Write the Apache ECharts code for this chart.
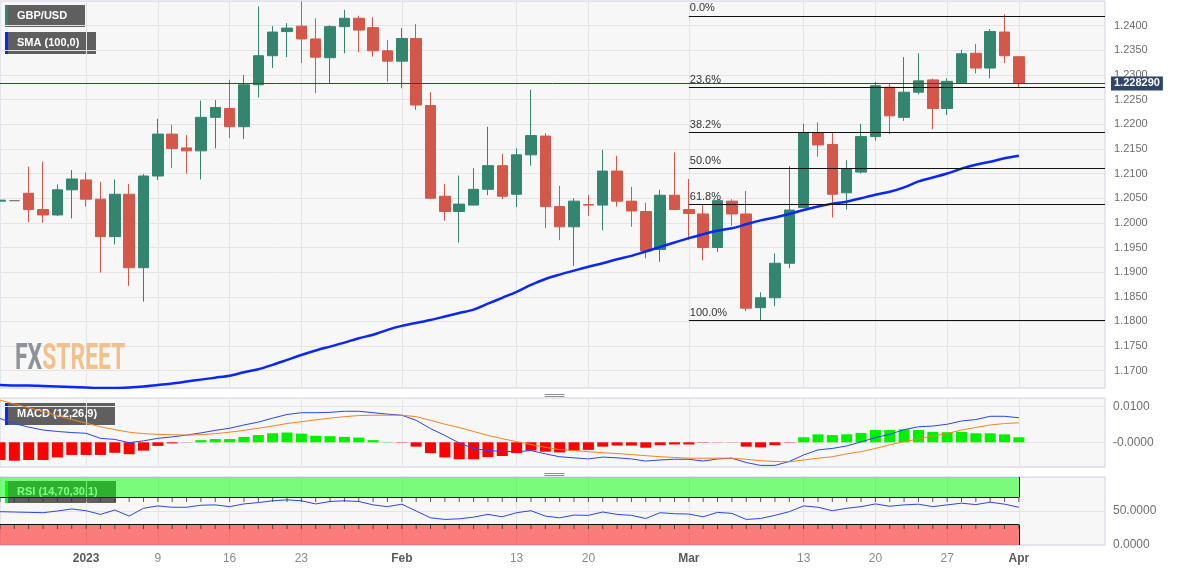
<!DOCTYPE html>
<html><head><meta charset="utf-8">
<script src="https://cdn.jsdelivr.net/npm/echarts@6/dist/echarts.min.js"></script>
<style>html,body{margin:0;padding:0;background:#fff;}#c{width:1182px;height:571px;}</style>
</head><body><div id="c"></div>
<script>
const dates = ['2022-12-23','2022-12-26','2022-12-27','2022-12-28','2022-12-29','2022-12-30',
'2023-01-02','2023-01-03','2023-01-04','2023-01-05','2023-01-06',
'2023-01-09','2023-01-10','2023-01-11','2023-01-12','2023-01-13',
'2023-01-16','2023-01-17','2023-01-18','2023-01-19','2023-01-20',
'2023-01-23','2023-01-24','2023-01-25','2023-01-26','2023-01-27',
'2023-01-30','2023-01-31','2023-02-01','2023-02-02','2023-02-03',
'2023-02-06','2023-02-07','2023-02-08','2023-02-09','2023-02-10',
'2023-02-13','2023-02-14','2023-02-15','2023-02-16','2023-02-17',
'2023-02-20','2023-02-21','2023-02-22','2023-02-23','2023-02-24',
'2023-02-27','2023-02-28','2023-03-01','2023-03-02','2023-03-03',
'2023-03-06','2023-03-07','2023-03-08','2023-03-09','2023-03-10',
'2023-03-13','2023-03-14','2023-03-15','2023-03-16','2023-03-17',
'2023-03-20','2023-03-21','2023-03-22','2023-03-23','2023-03-24',
'2023-03-27','2023-03-28','2023-03-29','2023-03-30','2023-03-31',
'2023-04-03','2023-04-04','2023-04-05','2023-04-06','2023-04-07','2023-04-10','2023-04-11'];

const opens = [1.2044,1.2045,1.2060,1.2027,1.2016,1.2067,1.2087,1.2048,1.1972,1.2058,
1.1909,1.2095,1.2180,1.2152,1.2146,1.2214,1.2232,1.2195,1.2280,1.2339,
1.2388,1.2399,1.2373,1.2335,1.2398,1.2415,1.2396,1.2349,1.2328,1.2374,
1.2238,1.2054,1.2023,1.2036,1.2068,1.2116,1.2058,1.2138,1.2176,1.2033,
1.1992,1.2037,1.2036,1.2105,1.2044,1.2023,1.1946,1.2056,1.2027,1.2018,
1.1950,1.2044,1.2018,1.1828,1.1848,1.1918,1.2031,1.2182,1.2159,1.2061,
1.2103,1.2175,1.2275,1.2214,1.2265,1.2290,1.2232,1.2284,1.2344,1.2314,
1.2387,1.2337];
const highs = [1.2091,1.2045,1.2114,1.2124,1.2078,1.2107,1.2102,1.2083,1.2088,1.2079,
1.2099,1.2211,1.2199,1.2178,1.2248,1.2249,1.2290,1.2300,1.2439,1.2399,
1.2405,1.2449,1.2415,1.2401,1.2432,1.2420,1.2417,1.2371,1.2395,1.2403,
1.2265,1.2079,1.2096,1.2111,1.2195,1.2140,1.2151,1.2270,1.2182,1.2075,
1.2050,1.2056,1.2148,1.2136,1.2073,1.2041,1.2067,1.2143,1.2089,1.2036,
1.2048,1.2048,1.2065,1.1859,1.1938,1.2115,1.2201,1.2204,1.2182,1.2127,
1.2201,1.2286,1.2283,1.2336,1.2344,1.2293,1.2293,1.2351,1.2363,1.2393,
1.2423,1.2337];
const lows = [1.2020,1.2045,1.2001,1.2000,1.2014,1.2009,1.2033,1.1899,1.1956,1.1872,
1.1840,1.2087,1.2111,1.2100,1.2088,1.2151,1.2172,1.2170,1.2254,1.2314,
1.2336,1.2324,1.2263,1.2283,1.2344,1.2346,1.2337,1.2286,1.2273,1.2229,
1.2048,1.2004,1.1960,1.2036,1.2056,1.2048,1.2032,1.2116,1.1989,1.1965,
1.1913,1.2014,1.1985,1.2033,1.1992,1.1928,1.1921,1.2027,1.1965,1.1924,
1.1941,1.1994,1.1821,1.1801,1.1831,1.1908,1.2030,1.2134,1.2011,1.2027,
1.2100,1.2167,1.2180,1.2207,1.2261,1.2190,1.2219,1.2282,1.2303,1.2293,
1.2324,1.2275];
const closes = [1.2046,1.2045,1.2027,1.2016,1.2067,1.2089,1.2048,1.1972,1.2058,1.1909,
1.2095,1.2180,1.2151,1.2146,1.2214,1.2234,1.2195,1.2280,1.2339,1.2387,
1.2395,1.2373,1.2336,1.2398,1.2415,1.2391,1.2349,1.2328,1.2374,1.2239,
1.2050,1.2023,1.2038,1.2068,1.2116,1.2054,1.2138,1.2177,1.2033,1.1992,
1.2044,1.2036,1.2105,1.2044,1.2024,1.1943,1.2056,1.2027,1.2019,1.1950,
1.2045,1.2018,1.1827,1.1848,1.1918,1.2026,1.2183,1.2158,1.2058,1.2109,
1.2175,1.2278,1.2217,1.2265,1.2288,1.2232,1.2287,1.2343,1.2314,1.2388,
1.2339,1.22829];

const sma100 = [1.1671,1.1670,1.1670,1.1669,1.1668,1.1667,1.1666,1.1665,1.1665,1.1666,
1.1668,1.1671,1.1674,1.1678,1.1682,1.1686,1.1690,1.1697,1.1703,1.1712,
1.1722,1.1732,1.1741,1.1749,1.1757,1.1766,1.1773,1.1783,1.1791,1.1797,
1.1803,1.1810,1.1817,1.1824,1.1836,1.1848,1.1860,1.1874,1.1886,1.1895,
1.1903,1.1911,1.1918,1.1926,1.1933,1.1942,1.1951,1.1960,1.1969,1.1977,
1.1984,1.1989,1.1997,1.2005,1.2011,1.2018,1.2026,1.2033,1.2039,1.2043,
1.2050,1.2057,1.2063,1.2072,1.2084,1.2092,1.2100,1.2110,1.2118,1.2124,
1.2131,1.2136];

const macdLine = [0.0066,0.0052,0.0042,0.0034,0.0030,0.0027,0.0025,0.0011,0.0008,-0.0001,
0.0004,0.0011,0.0015,0.0020,0.0026,0.0033,0.0039,0.0048,0.0056,0.0067,
0.0077,0.0082,0.0082,0.0083,0.0086,0.0086,0.0082,0.0078,0.0075,0.0061,
0.0038,0.0019,-0.0002,-0.0017,-0.0023,-0.0025,-0.0026,-0.0023,-0.0032,-0.0040,
-0.0043,-0.0046,-0.0041,-0.0043,-0.0046,-0.0052,-0.0049,-0.0047,-0.0047,-0.0052,
-0.0046,-0.0044,-0.0056,-0.0064,-0.0064,-0.0053,-0.0035,-0.0021,-0.0017,-0.0010,
0.0001,0.0013,0.0022,0.0035,0.0043,0.0045,0.0050,0.0059,0.0063,0.0072,
0.0072,0.0068];
const signalLine = [0.0117,0.0106,0.0096,0.0085,0.0074,0.0063,0.0053,0.0043,0.0035,0.0028,
0.0024,0.0022,0.0021,0.0020,0.0021,0.0024,0.0028,0.0033,0.0039,0.0045,
0.0052,0.0057,0.0062,0.0067,0.0071,0.0074,0.0075,0.0075,0.0075,0.0071,
0.0061,0.0050,0.0041,0.0030,0.0019,0.0010,0.0002,-0.0006,-0.0014,-0.0020,
-0.0023,-0.0026,-0.0029,-0.0031,-0.0034,-0.0037,-0.0040,-0.0042,-0.0044,-0.0044,
-0.0044,-0.0044,-0.0047,-0.0051,-0.0053,-0.0054,-0.0049,-0.0044,-0.0040,-0.0032,
-0.0026,-0.0017,-0.0007,0.0002,0.0009,0.0017,0.0024,0.0034,0.0041,0.0048,
0.0052,0.0054];
const macdHist = [-0.0049,-0.0051,-0.0049,-0.0049,-0.0042,-0.0035,-0.0035,-0.0035,-0.0029,-0.0033,
-0.0023,-0.0010,-0.0003,-0.00005,0.0006,0.0009,0.0009,0.0015,0.0020,0.0025,
0.0027,0.0024,0.0018,0.0017,0.0015,0.0013,0.0006,0.0001,-0.0001,-0.0012,
-0.0030,-0.0042,-0.0047,-0.0047,-0.0041,-0.0038,-0.0030,-0.0023,-0.0026,-0.0028,
-0.0023,-0.0021,-0.0012,-0.0009,-0.0009,-0.0015,-0.0008,-0.0006,-0.0006,-0.0001,
-0.00005,-0.00005,-0.0012,-0.0014,-0.0008,-0.0001,0.0014,0.0022,0.0020,0.0022,
0.0026,0.0034,0.0034,0.0036,0.0034,0.0029,0.0028,0.0029,0.0025,0.0025,
0.0022,0.0014];

const rsi = [49,48.5,48,47.5,50,53,50.4,45,51.5,42.5,
54,57.5,55.5,55.5,58.5,59,56.4,60.4,62.4,65,
66.4,65,60.4,64,65,64,59,56.4,60,50,
40,37.6,38.5,41,45,41.5,47.5,50.4,42.5,40,
44,43.6,48.5,45,43.6,39,47.5,46,45.5,41.5,
48,46.5,37.6,39,43.6,49,57.5,55.5,50.4,54,
56.4,60.4,57,59,60,56.4,59,61.5,59.4,63,
60,55.5];

const tickDates = ['2023-01-02','2023-01-09','2023-01-16','2023-01-23','2023-02-01','2023-02-13','2023-02-20','2023-03-01','2023-03-13','2023-03-20','2023-03-27','2023-04-03'];
const tickLabels = ['2023','9','16','23','Feb','13','20','Mar','13','20','27','Apr'];

const fibLevels = [0, 23.6, 38.2, 50, 61.8, 100];
const fibHigh = 1.2420, fibLow = 1.1802, fibStart = '2023-03-01';
const lastPrice = 1.22829;
const rsiUpper = 70, rsiLower = 30;

const candleData = opens.map((o, i) => [o, closes[i], lows[i], highs[i]]);
const lastDate = dates[closes.length - 1];
const endDate = dates[dates.length - 1];
const isTick = (idx, v) => tickDates.indexOf(v) >= 0;

const GRID_COLOR = '#e4e4e4';
const LABEL_COLOR = '#6e6e6e';
const FONT = 'Arial, "Liberation Sans", sans-serif';

function xAxisCfg(gi, showLabels) {
  return {
    type: 'category', gridIndex: gi, data: dates, boundaryGap: false,
    axisLine: {show: false}, axisTick: {show: false},
    axisLabel: {
      show: showLabels, interval: isTick, margin: 8, fontFamily: FONT,
      formatter: v => {
        const t = tickLabels[tickDates.indexOf(v)];
        return /^\d{1,2}$/.test(t) ? '{n|' + t + '}' : '{b|' + t + '}';
      },
      rich: {
        n: {color: '#8a8a8a', fontSize: 12, fontFamily: FONT},
        b: {color: '#5a5a5a', fontSize: 12, fontWeight: 'bold', fontFamily: FONT}
      }
    },
    splitLine: {show: true, interval: isTick, lineStyle: {color: GRID_COLOR, width: 1}}
  };
}

function yAxisCfg(gi, extra) {
  return Object.assign({
    type: 'value', gridIndex: gi, position: 'right', scale: true,
    axisLine: {show: false}, axisTick: {show: false},
    splitLine: {show: true, lineStyle: {color: GRID_COLOR, width: 1}},
  }, extra);
}

const gridBase = {left: 0, right: 77, show: true, backgroundColor: '#f7f7f7', borderColor: '#ccd3e2', borderWidth: 1};

const fibMarks = fibLevels.map(p => {
  const v = fibHigh - (fibHigh - fibLow) * p / 100;
  return [{coord: [fibStart, v], label: {formatter: p.toFixed(1) + '%'}}, {coord: [endDate, v]}];
});

function legendBox(x, y, w, accent, text) {
  const h = 22;
  return {type: 'group', left: x, top: y, z: 100, children: [
    {type: 'rect', shape: {x: 0, y: 0, width: w, height: h}, style: {fill: 'rgba(44,44,44,0.75)'}},
    {type: 'rect', shape: {x: 0, y: 0, width: 3, height: h}, style: {fill: accent}},
    {type: 'text', x: 12, y: h / 2, style: {text: text, fill: '#fff', font: 'bold 11px ' + FONT, verticalAlign: 'middle'}}
  ]};
}

function handle(y) {
  return {type: 'group', left: 542, top: y, z: 100, children: [0, 2, 4].map(d => ({
    type: 'line', shape: {x1: 0, y1: d + 0.5, x2: 20, y2: d + 0.5}, style: {stroke: '#8c8c8c', lineWidth: 1}
  }))};
}

const zoneTicks = (level) => closes.map((_, i) => [dates[i], level]);

const chart = echarts.init(document.getElementById('c'), null, {renderer: 'canvas'});
chart.setOption({
  animation: false,
  backgroundColor: '#ffffff',
  textStyle: {fontFamily: FONT},
  grid: [
    Object.assign({top: 1, height: 387}, gridBase),
    Object.assign({top: 398, height: 69}, gridBase),
    Object.assign({top: 477, height: 68}, gridBase)
  ],
  xAxis: [xAxisCfg(0, false), xAxisCfg(1, false), xAxisCfg(2, true)],
  yAxis: [
    yAxisCfg(0, {min: 1.1665, max: 1.2450, splitNumber: 15,
      axisLabel: {showMinLabel: false, showMaxLabel: false, margin: 9, color: LABEL_COLOR, fontSize: 11, fontFamily: FONT, formatter: v => v.toFixed(4)}}),
    yAxisCfg(1, {min: -0.00684, max: 0.01227, splitNumber: 2,
      axisLabel: {showMinLabel: false, showMaxLabel: false, margin: 8, color: LABEL_COLOR, fontSize: 12, fontFamily: FONT,
        formatter: v => Math.abs(v) < 1e-9 ? '-0.0000' : v.toFixed(4)}}),
    yAxisCfg(2, {min: 0, max: 100, interval: 50, scale: false,
      axisLabel: {showMaxLabel: false, margin: 8, color: LABEL_COLOR, fontSize: 12, fontFamily: FONT, formatter: v => v.toFixed(4)}})
  ],
  series: [
    {
      type: 'candlestick', name: 'GBP/USD', xAxisIndex: 0, yAxisIndex: 0,
      data: candleData, barWidth: 11,
      itemStyle: {color: '#338570', color0: '#d4584a', borderColor: '#338570', borderColor0: '#d4584a', borderColorDoji: '#7a7a7a', borderWidth: 1},
      markLine: {
        silent: true, symbol: ['none', 'none'], animation: false, precision: 6,
        lineStyle: {color: '#111', width: 1, type: 'solid'},
        label: {position: 'insideStartTop', color: '#333', fontSize: 11, fontFamily: FONT, distance: [1, 2]},
        data: fibMarks.concat([{
          yAxis: lastPrice,
          lineStyle: {color: '#2c4568', width: 1, type: 'solid'},
          label: {position: 'end', distance: 6, formatter: lastPrice.toFixed(6), color: '#fff', fontWeight: 'bold', fontSize: 11,
            backgroundColor: '#2c4568', padding: [2, 3, 1, 3], fontFamily: FONT}
        }])
      }
    },
    {
      type: 'line', name: 'SMA (100,0)', xAxisIndex: 0, yAxisIndex: 0, data: sma100,
      showSymbol: false, symbol: 'none', smooth: 0.3, lineStyle: {color: '#0b27f5', width: 2.5}, z: 3
    },
    {
      type: 'bar', name: 'Histogram', xAxisIndex: 1, yAxisIndex: 1, data: macdHist, barWidth: 11,
      itemStyle: {color: p => p.value >= 0 ? '#00f000' : '#ff0000'}
    },
    {
      type: 'line', name: 'MACD', xAxisIndex: 1, yAxisIndex: 1, data: macdLine,
      showSymbol: false, symbol: 'none', lineStyle: {color: '#2a44ee', width: 1}, z: 4
    },
    {
      type: 'line', name: 'Signal', xAxisIndex: 1, yAxisIndex: 1, data: signalLine,
      showSymbol: false, symbol: 'none', lineStyle: {color: '#f5821f', width: 1}, z: 4
    },
    {
      type: 'line', name: 'RSI', xAxisIndex: 2, yAxisIndex: 2, data: rsi,
      showSymbol: false, symbol: 'none', lineStyle: {color: '#2a44ee', width: 1}, z: 4,
      markArea: {
        silent: true,
        data: [
          [{xAxis: dates[0], yAxis: rsiUpper, itemStyle: {color: 'rgba(0,255,0,0.5)'}}, {xAxis: lastDate, yAxis: 100}],
          [{xAxis: dates[0], yAxis: 0, itemStyle: {color: 'rgba(255,0,0,0.5)'}}, {xAxis: lastDate, yAxis: rsiLower}]
        ]
      },
      markLine: {
        silent: true, symbol: ['none', 'none'], animation: false, label: {show: false}, precision: 6,
        lineStyle: {color: '#111', width: 1, type: 'solid'},
        data: [
          [{coord: [dates[0], rsiUpper]}, {coord: [lastDate, rsiUpper]}],
          [{coord: [dates[0], rsiLower]}, {coord: [lastDate, rsiLower]}],
          [{coord: [lastDate, rsiUpper]}, {coord: [lastDate, 100]}],
          [{coord: [lastDate, 0]}, {coord: [lastDate, rsiLower]}]
        ]
      }
    },
    {
      type: 'scatter', xAxisIndex: 2, yAxisIndex: 2, silent: true, z: 5,
      data: zoneTicks(rsiUpper).concat(zoneTicks(rsiLower)),
      symbol: 'rect', symbolSize: [1, 4], symbolOffset: [0, 2.5],
      itemStyle: {color: '#333', opacity: 0.8}
    }
  ],
  graphic: [
    legendBox(5, 5, 80, '#338570', 'GBP/USD'),
    legendBox(5, 32, 91, '#0b27f5', 'SMA (100,0)'),
    legendBox(5, 403, 110, '#0b27f5', 'MACD (12,26,9)'),
    legendBox(5, 481, 111, '#00ff00', 'RSI (14,70,30,1)'),
    handle(392), handle(471),
    {type: 'text', left: 15, top: 341, z: 1, scaleX: 0.62,
     style: {text: '{a|FX}{b|STREET}', rich: {
       a: {fill: '#8f9298', font: 'bold 37px Roboto', fontSize: 37, fontWeight: 'bold', fontFamily: 'Roboto', color: '#8f9298'},
       b: {fill: '#f2c08a', font: 'bold 37px Roboto', fontSize: 37, fontWeight: 'bold', fontFamily: 'Roboto', color: '#f2c08a'}
     }}}
  ]
});

const py = chart.convertToPixel({yAxisIndex: 0}, lastPrice);
chart.setOption({graphic: [{type: 'polygon', z: 100, shape: {points: [[1106, py], [1111, py - 6], [1111, py + 6]]}, style: {fill: '#2c4568'}}]});
</script>
</body></html>
